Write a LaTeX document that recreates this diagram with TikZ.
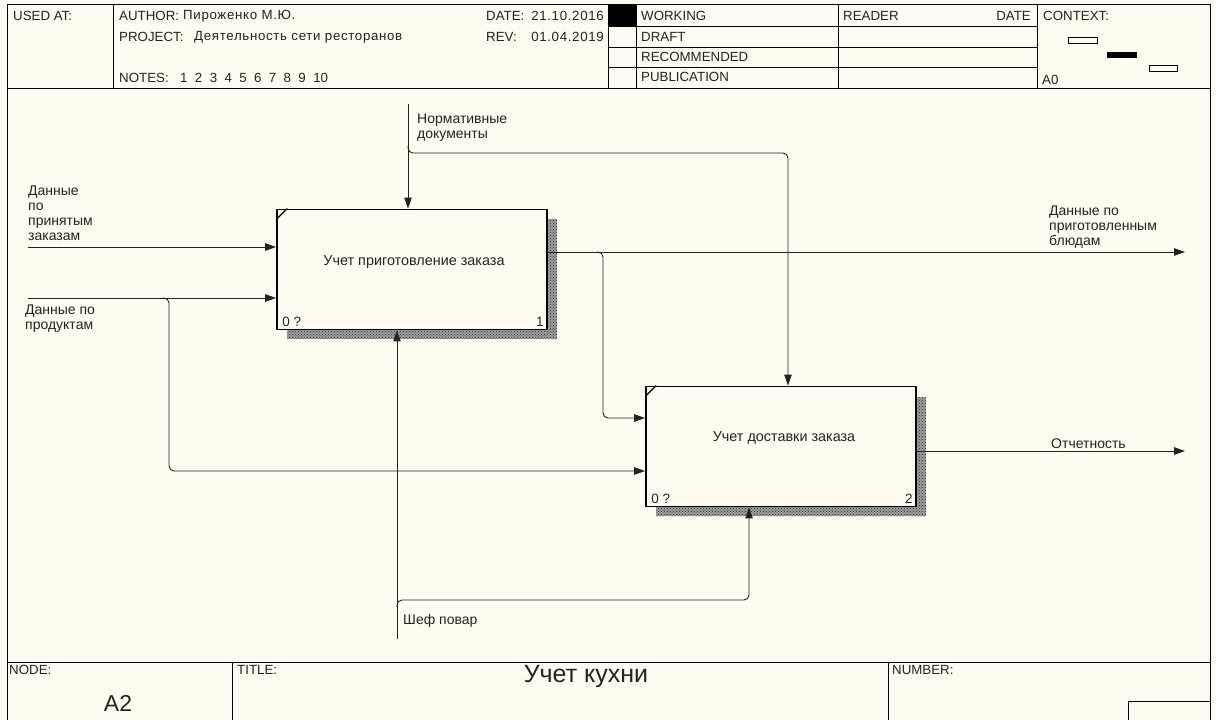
\documentclass[tikz,border=0pt]{standalone}
\usepackage{fontspec}
\setmainfont{Liberation Sans}
\usetikzlibrary{arrows.meta,patterns,calc}
\definecolor{paper}{RGB}{255,251,240}
\definecolor{ink}{RGB}{35,35,35}
\begin{document}
\begin{tikzpicture}[x=1pt,y=-1pt,
  hdr/.style={anchor=west, inner sep=0, text=ink, font=\fontsize{13.3}{15}\selectfont},
  hdrv/.style={anchor=west, inner sep=0, text=ink, font=\fontsize{13.3}{15}\selectfont\addfontfeature{LetterSpace=5}},
  lbl/.style={anchor=north west, inner sep=0, align=left, text=ink, font=\fontsize{14}{15}\selectfont},
  flow/.style={draw=ink, line width=0.9pt, rounded corners=5pt},
  arr/.style={-{Triangle[length=11pt,width=7.5pt]}},
  actbox/.style={draw=black, line width=1.8pt, fill=paper, inner sep=0, minimum width=270pt, minimum height=120pt},
  boxtext/.style={inner sep=0, text=ink, font=\fontsize{14.4}{16}\selectfont},
  boxnum/.style={inner sep=0, text=ink, font=\fontsize{13.5}{15}\selectfont},
  shadowfill/.style={preaction={fill=black!38}, pattern=crosshatch dots, pattern color=black!85},
  rule/.style={draw=black, line width=1pt}
]
\useasboundingbox (0,0) rectangle (1216,720);
\fill[paper] (0,0) rectangle (1216,720);

% ---------- frame and header ----------
\draw[rule] (7,4) rectangle (1210,730);
\draw[rule] (7,88) -- (1210,88);
\draw[rule] (113,4) -- (113,88);
\draw[rule] (608,4) -- (608,88);
\draw[rule] (636,4) -- (636,88);
\draw[rule] (838,4) -- (838,88);
\draw[rule] (1037,4) -- (1037,88);
\foreach \yy in {26,47,67} \draw[rule] (608,\yy) -- (1037,\yy);
\fill[black] (608,4) rectangle (636,26);

\node[hdr] (usedat) at (13,16) {USED AT:};
\node[hdr] (author) at (119,16) {AUTHOR:};
\node[hdrv] (authorv) at (183,16) {Пироженко М.Ю.};
\node[hdr] (project) at (119,37) {PROJECT:};
\node[hdrv] (projectv) at (194,37) {Деятельность сети ресторанов};
\node[hdr] (notes) at (119,78) {NOTES:};
\node[hdr] (notesv) at (180,78) {1\ \ 2\ \ 3\ \ 4\ \ 5\ \ 6\ \ 7\ \ 8\ \ 9\ \ 10};
\node[hdr] (date) at (486,16) {DATE:};
\node[hdrv, anchor=east] (datev) at (604,16) {21.10.2016};
\node[hdr] (rev) at (486,37) {REV:};
\node[hdrv, anchor=east] (revv) at (604,37) {01.04.2019};
\node[hdr] (working) at (641,16) {WORKING};
\node[hdr] (draft) at (641,37) {DRAFT};
\node[hdr] (recom) at (641,57) {RECOMMENDED};
\node[hdr] (publ) at (641,77) {PUBLICATION};
\node[hdr] (reader) at (843,16) {READER};
\node[hdr, anchor=east] (rdate) at (1031,16) {DATE};
\node[hdr] (context) at (1043,16) {CONTEXT:};
\node[hdr] (azero) at (1042,80) {A0};
\draw[black, line width=0.8pt, fill=paper] (1068,37) rectangle (1097,43.5);
\fill[black] (1107,52) rectangle (1137,58);
\draw[black, line width=0.8pt, fill=paper] (1149,65) rectangle (1177,71.5);

% ---------- footer ----------
\draw[rule] (7,662) -- (1210,662);
\draw[rule] (232,662) -- (232,730);
\draw[rule] (888,662) -- (888,730);
\draw[rule] (1128,730) -- (1128,701) -- (1210,701);
\node[hdr, anchor=north west] (nodelbl) at (9,665) {NODE:};
\node[inner sep=0, text=ink, font=\fontsize{23}{25}\selectfont] (nodeval) at (118,703) {A2};
\node[hdr, anchor=north west] (titlelbl) at (237,665) {TITLE:};
\node[inner sep=0, text=ink, font=\fontsize{25}{27}\selectfont] (title) at (586,676) {Учет кухни};
\node[hdr, anchor=north west] (numlbl) at (892,665) {NUMBER:};

% ---------- activity boxes ----------
\path[shadowfill] (547,219) rectangle (557,339);
\path[shadowfill] (287,329.5) rectangle (557,339);
\path[shadowfill] (916,397) rectangle (926,516);
\path[shadowfill] (656,506.5) rectangle (926,516);

\node[actbox] (box1) at (412,269.5) {};
\node[actbox] (box2) at (781,446.5) {};
\draw[black, line width=1.2pt] ($(box1.north west)+(0,11)$) -- ($(box1.north west)+(11,0)$);
\draw[black, line width=1.2pt] ($(box2.north west)+(0,11)$) -- ($(box2.north west)+(11,0)$);

\node[boxtext] (t1) at (414,262) {Учет приготовление заказа};
\node[boxtext] (t2) at (784,438) {Учет доставки заказа};
\node[boxnum, anchor=south west] (n1a) at ($(box1.south west)+(6,-4)$) {0 ?};
\node[boxnum, anchor=south east] (n1b) at ($(box1.south east)+(-4,-4)$) {1};
\node[boxnum, anchor=south west] (n2a) at ($(box2.south west)+(6,-4)$) {0 ?};
\node[boxnum, anchor=south east] (n2b) at ($(box2.south east)+(-4,-4)$) {2};

% ---------- coordinates ----------
\coordinate (in1s) at (28,247);
\coordinate (in2s) at (28,298);
\coordinate (ctls) at (408,104);
\coordinate (mchs) at (397,639);
\coordinate (out1e) at (1185,252);
\coordinate (out2e) at (1185,451);
\coordinate (b1ctl) at ($(box1.north)+(-4,0)$);
\coordinate (b1mch) at ($(box1.south)+(-15,0)$);
\coordinate (b1out) at ($(box1.east)+(0,-17.5)$);
\coordinate (b2ctl) at ($(box2.north)+(7,0)$);
\coordinate (b2mch) at ($(box2.south)+(-32,0)$);
\coordinate (b2in1) at ($(box2.west)+(0,-28.5)$);
\coordinate (b2in2) at ($(box2.west)+(0,24.5)$);
\coordinate (b2out) at ($(box2.east)+(0,4.5)$);

% ---------- connectors ----------
\draw[flow, arr] (in1s) -- (box1.west |- in1s);
\draw[flow, arr] (in2s) -- (box1.west |- in2s);
\draw[flow, arr] (163,298) -- (169,298) -- (169,471) -- (b2in2);
\draw[flow, arr] (ctls) -- (b1ctl);
\draw[flow, arr] (408,146) -- (408,153) -- (788,153) -- (b2ctl);
\draw[flow, arr] (b1out) -- (out1e);
\draw[flow, arr] (597,252) -- (603,252) -- (603,418) -- (b2in1);
\draw[flow, arr] (b2out) -- (out2e);
\draw[flow, arr] (mchs) -- (b1mch);
\draw[flow, arr] (397,607) -- (397,600) -- (749,600) -- (b2mch);

% ---------- labels ----------
\node[lbl] (l1) at (28,185.5) {Данные\\по\\принятым\\заказам};
\node[lbl] (l2) at (25,305) {Данные по\\продуктам};
\node[lbl] (l3) at (417,113.5) {Нормативные\\документы};
\node[lbl] (l4) at (1049,205.5) {Данные по\\приготовленным\\блюдам};
\node[lbl] (l5) at (1051,438.5) {Отчетность};
\node[lbl] (l6) at (403,614) {Шеф повар};
\end{tikzpicture}
\end{document}
